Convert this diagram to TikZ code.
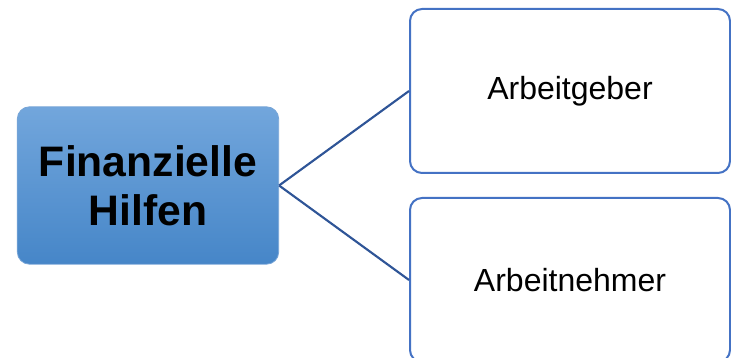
\documentclass[tikz,border=0pt]{standalone}
\usepackage{fontspec}
\setmainfont{Liberation Sans}
\usepackage{tikz}
\usetikzlibrary{positioning}
\definecolor{fhtop}{RGB}{114,166,220}
\definecolor{fhbottom}{RGB}{70,134,200}
\definecolor{fhedge}{RGB}{120,165,215}
\definecolor{fhblue}{RGB}{68,114,196}
\definecolor{fhline}{RGB}{47,85,151}
\tikzstyle{connector} = [line width=1.6pt,color=fhline]
\tikzstyle{mainbox} = [rectangle, rounded corners=9pt, minimum width=196pt, minimum height=118pt, align=center, draw=fhedge, line width=0.6pt, top color=fhtop, bottom color=fhbottom, font=\fontsize{32}{37}\selectfont\bfseries]
\tikzstyle{branchbox} = [rectangle, rounded corners=9pt, minimum width=240pt, minimum height=123pt, align=center, draw=fhblue, fill=white, line width=1.5pt, font=\fontsize{24}{28}\selectfont]

\begin{document}
\begin{tikzpicture}[x=0.75pt,y=0.75pt]
\useasboundingbox (0,0) rectangle (731,357);
% Nodes
\node (hilfen) [mainbox] at (148,171.5) {Finanzielle\\Hilfen};
\node (geber) [branchbox] at (570,266) {Arbeitgeber};
\node (nehmer) [branchbox] at (570,77) {Arbeitnehmer};

% Connectors
\draw[connector] (hilfen.east) -- (geber.west);
\draw[connector] (hilfen.east) -- (nehmer.west);
\end{tikzpicture}
\end{document}
